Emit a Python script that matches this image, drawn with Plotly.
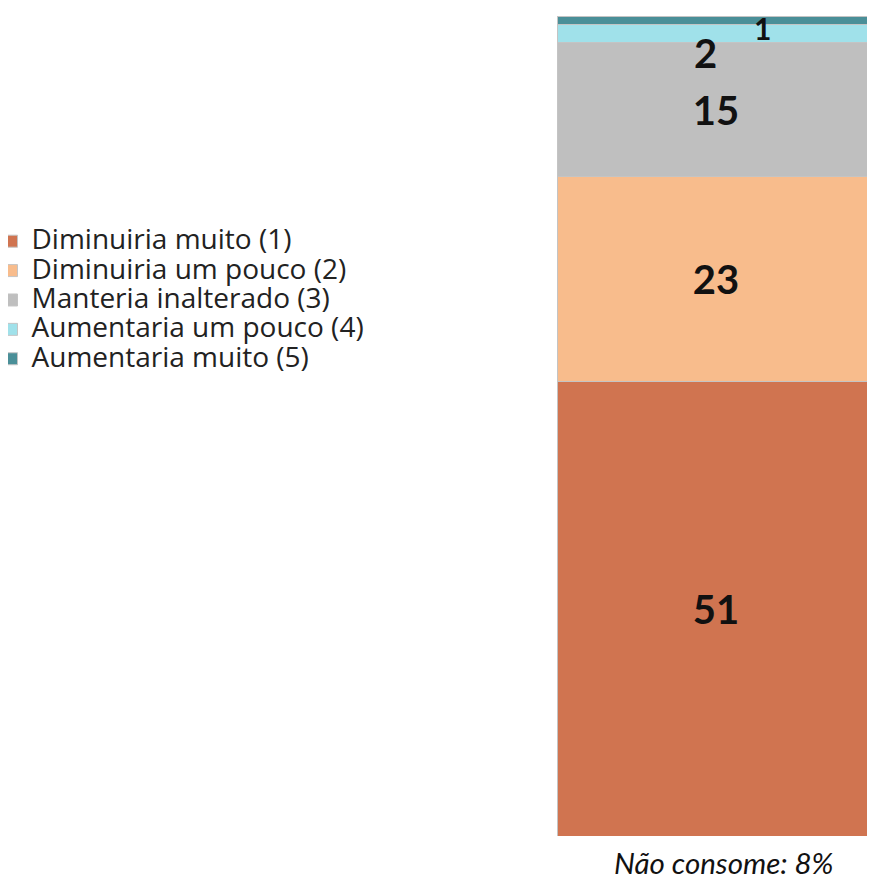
import plotly.graph_objects as go

# answer categories (bottom to top of the stack) and their share in %
categories = [
    "Diminuiria muito (1)",
    "Diminuiria um pouco (2)",
    "Manteria inalterado (3)",
    "Aumentaria um pouco (4)",
    "Aumentaria muito (5)",
]
values = [51, 23, 15, 2, 1]
colors = ["#D07450", "#F8BC8C", "#BFBFBF", "#A0E1EA", "#4A8F98"]
not_consuming = 8

OFF = 8  # page body margin of the browser
W, H = 875 - OFF, 878 - OFF
label_font = dict(family="Lato", size=40, color="#111111")

fig = go.Figure()
for name, val, col in zip(categories, values, colors):
    big = val >= 10
    fig.add_trace(go.Bar(
        x=[0], y=[val],
        name=f"<span style='font-size:28px'>{name}</span>",
        marker=dict(color=col, line=dict(color="#C4C4C4", width=1)),
        width=1,
        text=[f"<b>{val}</b>"] if big else None,
        textposition="inside", insidetextanchor="middle",
        textfont=label_font, hoverinfo="y",
    ))

# small segments get their labels placed beside the segment
cum = 0
for val in values:
    cum += val
    if val < 10:
        mid = cum - val / 2
        shift = {2: (-11, -19), 1: (46, -8)}[val]
        fig.add_annotation(
            x=0, y=mid, text=f"<b>{val}</b>", showarrow=False,
            font=dict(family="Lato", size=40 if val == 2 else 30, color="#111111"),
            xshift=shift[0], yshift=shift[1],
        )

fig.add_annotation(
    x=0, y=0, text=f"<i>Não consome: {not_consuming}%</i>", showarrow=False,
    font=dict(family="Lato", size=29.5, color="#111111"), yshift=-26, xshift=8,
    yanchor="middle",
)

fig.update_layout(
    width=W, height=H, barmode="stack",
    margin=dict(l=0, r=0, t=0, b=0, autoexpand=False),
    paper_bgcolor="white", plot_bgcolor="white",
    xaxis=dict(domain=[(557 - OFF) / W, 1], range=[-0.5, 0.5], visible=False),
    yaxis=dict(domain=[1 - (836 - OFF) / H, 1 - (16 - OFF) / H],
               range=[0, sum(values)], visible=False),
    legend=dict(x=-16.5 / W, y=1 - 213.5 / H, xanchor="left", yanchor="top",
                traceorder="normal", itemwidth=30, tracegroupgap=0,
                font=dict(family="Open Sans", size=20.3, color="#222222")),
    showlegend=True,
)

fig.write_html("out.html")
